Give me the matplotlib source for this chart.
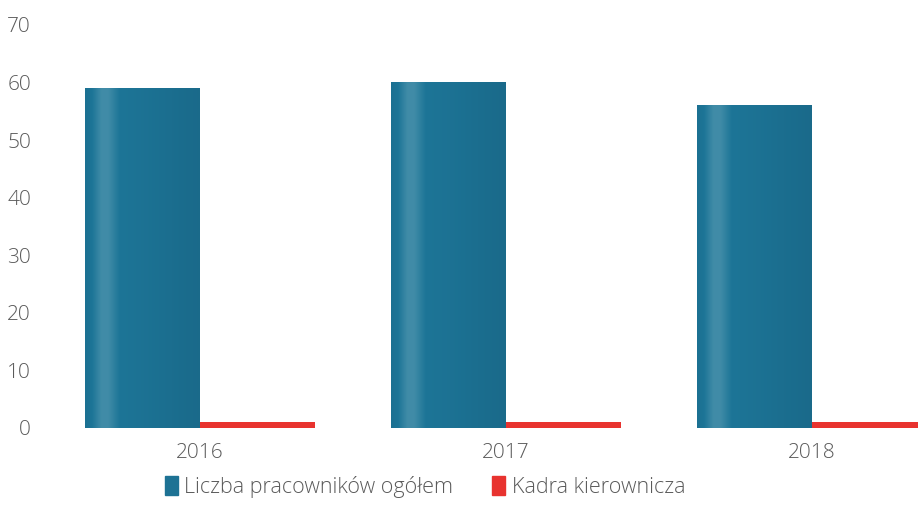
import matplotlib
matplotlib.use("Agg")
import matplotlib.pyplot as plt
import numpy as np
from matplotlib.patches import Patch
from matplotlib.colors import LinearSegmentedColormap

years = ["2016", "2017", "2018"]
total = [59, 60, 56]
managers = [1, 1, 1]

BLUE = "#1d7294"
RED = "#e8332f"
TXT = "#5a5a5a"

plt.rcParams["font.family"] = ["Open Sans", "DejaVu Sans"]

fig = plt.figure(figsize=(9.18, 5.08), dpi=100, facecolor="white")
ax = fig.add_axes([0.052, 0.1575, 0.948, 0.7935])

x = np.arange(len(years))
w = 0.375
b1 = ax.bar(x - w / 2, total, w, color=BLUE, zorder=2)
b2 = ax.bar(x + w / 2, managers, w, color=RED, zorder=2)

# cylinder-like shading: soft light stripe near left edge, deeper teal on the right
teal = LinearSegmentedColormap.from_list("teal", ["#175f7e", "#1d7597", "#4f95ae"])
grad = np.linspace(0, 1, 128)
shade = np.interp(grad, [0, 0.06, 0.14, 0.2, 0.3, 0.55, 1.0],
                  [0.4, 0.5, 0.85, 0.85, 0.5, 0.42, 0.25])
for r in b1:
    x0, y0, bw, bh = r.get_x(), r.get_y(), r.get_width(), r.get_height()
    ax.imshow(shade[None, :], extent=(x0, x0 + bw, y0, y0 + bh), aspect="auto",
              cmap=teal, vmin=0, vmax=1, zorder=3,
              clip_path=r, clip_on=True, interpolation="bilinear")

ax.set_xlim(-0.497, 2.346)
ax.set_ylim(0, 70)
ax.set_yticks(range(0, 71, 10))
ax.set_xticks(x)
ax.set_xticklabels(years)
ax.tick_params(length=0, labelsize=15, colors=TXT)
ax.tick_params(axis="y", pad=12)
ax.tick_params(axis="x", pad=11)
for lab in ax.get_xticklabels() + ax.get_yticklabels():
    lab.set_fontweight("light")
for s in ax.spines.values():
    s.set_visible(False)

handles = [Patch(color=BLUE, label="Liczba pracowników ogółem"),
           Patch(color=RED, label="Kadra kierownicza")]
leg = fig.legend(handles=handles, loc="lower center", bbox_to_anchor=(0.463, -0.018), ncol=2,
                 frameon=False, fontsize=15.5, labelcolor=TXT, handlelength=0.6, handleheight=1.0,
                 handletextpad=0.3, columnspacing=1.8)
for t in leg.get_texts():
    t.set_fontweight("light")

fig.savefig("out.png", dpi=100, facecolor="white")
